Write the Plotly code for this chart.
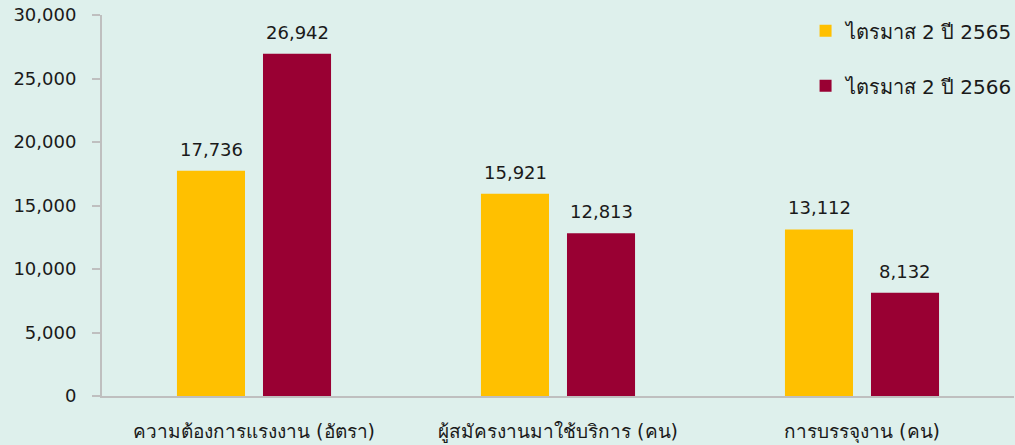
import plotly.graph_objects as go

categories = ["ความต้องการแรงงาน (อัตรา)", "ผู้สมัครงานมาใช้บริการ (คน)", "การบรรจุงาน (คน)"]
series_names = ["ไตรมาส 2 ปี 2565", "ไตรมาส 2 ปี 2566"]
values_2565 = [17736, 15921, 13112]
values_2566 = [26942, 12813, 8132]
tick_vals = [0, 5000, 10000, 15000, 20000, 25000, 30000]

FONT = "Tahoma, 'DejaVu Sans', sans-serif"
BG = "#DEF0EC"

fig = go.Figure()
series = [
    (series_names[0], values_2565, "#FFC000", "a", -43),
    (series_names[1], values_2566, "#990033", "b", 43),
]
for name, vals, color, grp, shift in series:
    fig.add_trace(go.Bar(
        x=categories, y=vals, name=name, marker_color=color,
        marker_line_width=0, legendgroup=grp,
    ))
    for c, v in zip(categories, vals):
        fig.add_annotation(x=c, y=v, text=f"{v:,}", showarrow=False,
                           xshift=shift, yshift=9, yanchor="bottom",
                           font=dict(size=18, color="#1a1a1a", family=FONT))

fig.update_layout(
    width=1015, height=445,
    paper_bgcolor=BG, plot_bgcolor=BG,
    margin=dict(l=102, r=1, t=15, b=49, autoexpand=False),
    barmode="group", bargap=0.434, bargroupgap=0.209,
    font=dict(family=FONT, size=18, color="#1a1a1a"),
    showlegend=True,
    legend=dict(x=1.005, y=1.01, xanchor="right", yanchor="top",
                bgcolor="rgba(0,0,0,0)", font=dict(size=20, family=FONT),
                tracegroupgap=26, itemwidth=30),
)
fig.update_xaxes(showline=True, linecolor="#BFBFBF", linewidth=2,
                 ticks="", showgrid=False, tickfont=dict(size=19),
                 ticklabelstandoff=17, automargin=False)
fig.update_yaxes(range=[0, 30000], tickvals=tick_vals,
                 tickformat=",", showline=True, linecolor="#BFBFBF", linewidth=2,
                 ticks="outside", ticklen=8, tickcolor="#BFBFBF", tickwidth=2,
                 showgrid=False, zeroline=False, tickfont=dict(size=18),
                 ticklabelstandoff=12, automargin=False)

fig.write_html("out.html", config={"displayModeBar": False},
               post_script="document.body.style.margin='0';document.body.style.background='%s';" % BG)
